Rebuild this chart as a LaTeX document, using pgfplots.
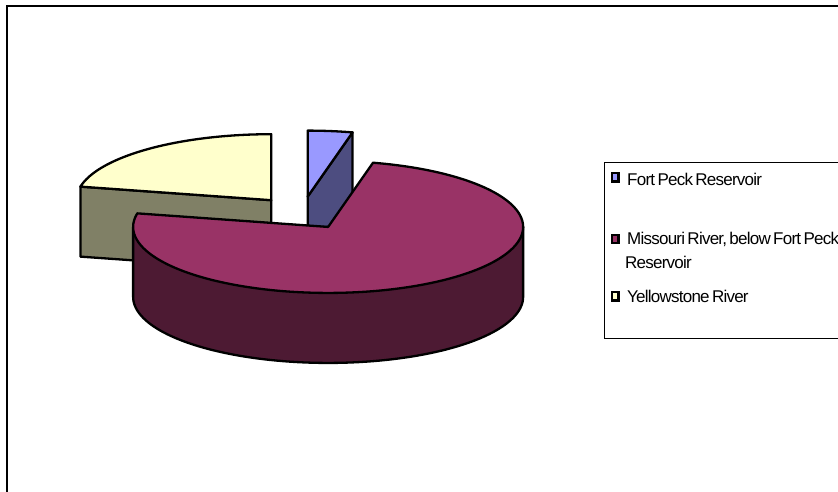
\documentclass[border=0pt]{standalone}
\usepackage{pgfplots}
\pgfplotsset{compat=1.18}
\usepackage{pgfplotstable}
\usepackage{fontspec}
\setmainfont{Liberation Sans}[LetterSpace=-4.5,WordSpace=0.6]

\definecolor{fpTop}{HTML}{9999FF}
\definecolor{fpSide}{HTML}{4D4D80}
\definecolor{moTop}{HTML}{993366}
\definecolor{moSide}{HTML}{4D1A33}
\definecolor{yeTop}{HTML}{FFFFCC}
\definecolor{yeSide}{HTML}{808066}

\pgfplotstableread{
name share
FortPeck 3.7
Missouri 74.6
Yellowstone 21.7
}\pietable

\begin{document}%
\begin{tikzpicture}
\pgfplotstablegetelem{0}{share}\of\pietable \let\sF\pgfplotsretval
\pgfplotstablegetelem{1}{share}\of\pietable \let\sM\pgfplotsretval
\pgfplotstablegetelem{2}{share}\of\pietable \let\sY\pgfplotsretval
\pgfmathsetmacro\tot{\sF+\sM+\sY}
\pgfmathsetmacro\bF{\sF/\tot*360}
\pgfmathsetmacro\bM{\bF+\sM/\tot*360}
\pgfmathsetmacro\mF{\bF/2}
\pgfmathsetmacro\mM{(\bF+\bM)/2}
\pgfmathsetmacro\mY{(\bM+360)/2}
\def\cx{302}\def\cy{213}\def\rx{195}\def\ry{66}\def\dep{70}\def\ex{0.25}
% exploded vertices
\pgfmathsetmacro\fx{\cx+\ex*\rx*sin(\mF)}
\pgfmathsetmacro\fy{\cy-\ex*\ry*cos(\mF)}
\pgfmathsetmacro\mx{\cx+\ex*\rx*sin(\mM)}
\pgfmathsetmacro\my{\cy-\ex*\ry*cos(\mM)}
\pgfmathsetmacro\yx{\cx+\ex*\rx*sin(\mY)}
\pgfmathsetmacro\yy{\cy-\ex*\ry*cos(\mY)}
% cut faces
\pgfmathsetmacro\frx{\fx+\rx*sin(\bF)}
\pgfmathsetmacro\fry{\fy-\ry*cos(\bF)}
\pgfmathsetmacro\fryb{\fry+\dep}
\pgfmathsetmacro\fyb{\fy+\dep}
\pgfmathsetmacro\yrx{\yx+\rx*sin(\bM)}
\pgfmathsetmacro\yry{\yy-\ry*cos(\bM)}
\pgfmathsetmacro\yryb{\yry+\dep}
\pgfmathsetmacro\yyb{\yy+\dep}
\pgfmathsetmacro\mxl{\mx-\rx}
\pgfmathsetmacro\mxr{\mx+\rx}
\begin{axis}[width=838pt, height=491pt, scale only axis,
  xmin=0, xmax=838, ymin=0, ymax=491, y dir=reverse,
  hide axis, clip=false]
\coordinate (bbA) at (axis cs:0,0);
\coordinate (bbB) at (axis cs:838,491);
% frame
\draw[line width=2pt] (axis cs:7,495) -- (axis cs:7,5.5) -- (axis cs:845,5.5);
% Yellowstone River
\addplot[fill=yeSide, draw=black, line width=2.3pt, line join=round]
  coordinates {(\yx,\yy) (\yrx,\yry) (\yrx,\yryb) (\yx,\yyb)} -- cycle;
\addplot[fill=yeTop, draw=black, line width=2.3pt, line join=round,
  domain=\bM:360, samples=60, variable=\t]
  ({\yx+\rx*sin(\t)},{\yy-\ry*cos(\t)}) -- (axis cs:\yx,\yy) -- cycle;
% Fort Peck Reservoir
\addplot[fill=fpSide, draw=black, line width=2.3pt, line join=round]
  coordinates {(\fx,\fy) (\frx,\fry) (\frx,\fryb) (\fx,\fyb)} -- cycle;
\addplot[fill=fpTop, draw=black, line width=2.3pt, line join=round,
  domain=0:\bF, samples=20, variable=\t]
  ({\fx+\rx*sin(\t)},{\fy-\ry*cos(\t)}) -- (axis cs:\fx,\fy) -- cycle;
% Missouri River
\addplot[fill=moSide, draw=black, line width=2.3pt, line join=round,
  domain=90:270, samples=90, variable=\t]
  ({\mx+\rx*sin(\t)},{\my-\ry*cos(\t)+\dep}) -- (axis cs:\mxl,\my) -- (axis cs:\mxr,\my) -- cycle;
\addplot[fill=moTop, draw=black, line width=2.3pt, line join=round,
  domain=\bF:\bM, samples=150, variable=\t]
  ({\mx+\rx*sin(\t)},{\my-\ry*cos(\t)}) -- (axis cs:\mx,\my) -- cycle;
% legend
\draw[line width=1pt, fill=white] (axis cs:604,162) rectangle (axis cs:900,338);
\draw[line width=2.4pt, fill=fpTop] (axis cs:611.7,173.2) rectangle (axis cs:618.5,181.5);
\draw[line width=2.4pt, fill=moTop] (axis cs:611.7,234.7) rectangle (axis cs:618.5,243);
\draw[line width=2.4pt, fill=yeTop] (axis cs:611.7,292.2) rectangle (axis cs:618.5,300.5);
\node[anchor=base west, inner sep=0pt, font=\fontsize{17}{20}\selectfont] at (axis cs:627,185) {Fort Peck Reservoir};
\node[anchor=base west, inner sep=0pt, font=\fontsize{17}{20}\selectfont] at (axis cs:627,244.5) {Missouri River, below Fort Peck};
\node[anchor=base west, inner sep=0pt, font=\fontsize{17}{20}\selectfont] at (axis cs:625,268) {Reservoir};
\node[anchor=base west, inner sep=0pt, font=\fontsize{17}{20}\selectfont] at (axis cs:627,302) {Yellowstone River};
\end{axis}
\pgfresetboundingbox
\path[use as bounding box] (bbA) rectangle (bbB);
\end{tikzpicture}%
\end{document}
